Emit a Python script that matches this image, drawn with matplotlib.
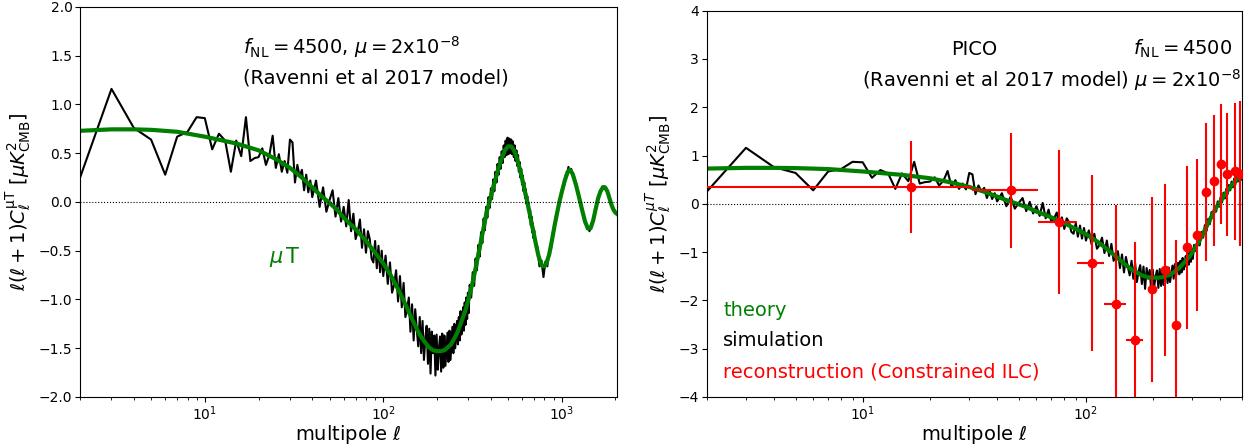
import numpy as np
import matplotlib
matplotlib.use("Agg")
import matplotlib.pyplot as plt

# theory curve (green)
ell_th = [2, 3, 4, 5, 7, 10, 15, 20, 25, 30, 35, 40, 45, 50, 55, 60, 70, 80, 90, 100,
          110, 120, 130, 140, 150, 160, 170, 180, 190, 200, 210, 220, 230, 240, 250,
          260, 270, 280, 290, 300, 320, 340, 360, 380, 400, 420, 440, 460, 480, 500,
          520, 540, 560, 580, 600, 620, 640, 660, 680, 700, 720, 740, 760, 780, 800,
          820, 850, 880, 910, 940, 970, 1000, 1040, 1080, 1110, 1150, 1200, 1250, 1300,
          1350, 1400, 1450, 1500, 1550, 1600, 1650, 1700, 1750, 1800, 1850, 1900, 1950,
          2000, 2100]
cl_th = [0.73, 0.745, 0.745, 0.74, 0.72, 0.67, 0.60, 0.53, 0.44, 0.35, 0.25, 0.15, 0.06,
         -0.01, -0.08, -0.16, -0.28, -0.40, -0.52, -0.63, -0.75, -0.88, -1.01, -1.14,
         -1.26, -1.36, -1.43, -1.49, -1.52, -1.53, -1.53, -1.52, -1.49, -1.46, -1.40,
         -1.34, -1.26, -1.18, -1.10, -1.00, -0.79, -0.55, -0.32, -0.10, 0.05, 0.20, 0.33,
         0.44, 0.53, 0.57, 0.57, 0.53, 0.45, 0.35, 0.24, 0.12, 0.01, -0.11, -0.23, -0.34,
         -0.45, -0.55, -0.62, -0.66, -0.66, -0.63, -0.54, -0.40, -0.25, -0.12, 0.0, 0.10,
         0.22, 0.31, 0.33, 0.29, 0.18, 0.05, -0.08, -0.20, -0.27, -0.27, -0.19, -0.07,
         0.04, 0.11, 0.15, 0.15, 0.11, 0.04, -0.03, -0.08, -0.11, -0.14]

# simulation (black), in pieces with a fixed step in ell
sim_a = [0.25, 1.16, 0.76, 0.64, 0.28, 0.67, 0.72, 0.87, 0.86, 0.54, 0.70, 0.63, 0.31,
         0.63, 0.47, 0.87, 0.42, 0.45, 0.46, 0.55, 0.38, 0.48, 0.68, 0.35, 0.49, 0.31,
         0.42, 0.30, 0.64, 0.61, 0.20, 0.38, 0.26, 0.33, 0.12, 0.28, 0.10, 0.22, 0.05]  # ell 2..40
sim_b = [0.22, -0.05, 0.15, -0.10, 0.02, 0.12, -0.15, 0.04, -0.20, -0.05, -0.25, 0.02,
         -0.30, -0.12, -0.38, -0.30, -0.18, -0.47, -0.28, -0.52, -0.30, -0.38, -0.58,
         -0.62, -0.40, -0.68, -0.45, -0.72, -0.50, -0.76]  # ell 42..100 step 2
sim_c = [-0.55, -0.84, -0.62, -0.93, -0.85, -0.70, -1.02, -0.76, -1.08, -0.83, -1.18,
         -1.10, -0.98, -1.33, -1.05, -1.42, -1.10, -1.30, -1.48, -1.18, -1.55, -1.22,
         -1.62, -1.40, -1.27, -1.66, -1.30, -1.76, -1.33, -1.55, -1.37, -1.78, -1.36,
         -1.72, -1.50, -1.38, -1.74, -1.35, -1.70, -1.37, -1.68, -1.50, -1.34, -1.64,
         -1.32, -1.62, -1.45, -1.28, -1.55, -1.25, -1.50, -1.35, -1.22, -1.46, -1.18,
         -1.42, -1.12, -1.36, -1.25, -1.08, -1.32, -1.03, -1.26, -0.98, -1.20, -0.93,
         -1.14]  # ell 103..301 step 3
sim_d = [-0.85, -0.98, -0.72, -0.86, -0.58, -0.70, -0.44, -0.56, -0.31, -0.42, -0.17,
         -0.29, -0.05, -0.16, 0.05, -0.06, 0.14, 0.03, 0.23, 0.11, 0.31, 0.20, 0.39, 0.28,
         0.46, 0.34, 0.52, 0.40, 0.58, 0.46, 0.63, 0.48, 0.66, 0.49, 0.65, 0.50, 0.64,
         0.49, 0.62, 0.46, 0.58, 0.42, 0.53, 0.37, 0.48, 0.31, 0.41, 0.25, 0.34, 0.18,
         0.27, 0.11, 0.20, 0.04, 0.13, -0.02, 0.06, -0.09, -0.01, -0.16, -0.08, -0.24,
         -0.15, -0.31, -0.22, -0.37, -0.29]  # ell 305..701 step 6
sim_e = [-0.44, -0.46, -0.66, -0.60, -0.77, -0.61, -0.66, -0.50, -0.49, -0.32, -0.28,
         -0.13, -0.10, 0.02, 0.05, 0.15, 0.17, 0.27, 0.27, 0.36, 0.31, 0.34, 0.27, 0.27,
         0.19, 0.16, 0.09, 0.06, -0.01, -0.04, -0.11, -0.14, -0.21, -0.22, -0.28, -0.26,
         -0.30, -0.26, -0.25, -0.20, -0.18, -0.11, -0.08, -0.02, 0.01, 0.07, 0.08, 0.12,
         0.12, 0.16, 0.14, 0.16, 0.14, 0.14, 0.11, 0.10, 0.05, 0.05, 0.00, -0.01, -0.05,
         -0.05, -0.09, -0.08, -0.11]  # ell 710..1990 step 20

ell_sim = np.concatenate([2 + np.arange(len(sim_a)), 42 + 2 * np.arange(len(sim_b)),
                          103 + 3 * np.arange(len(sim_c)), 305 + 6 * np.arange(len(sim_d)),
                          710 + 20 * np.arange(len(sim_e))])
cl_sim = np.concatenate([sim_a, sim_b, sim_c, sim_d, sim_e])

# reconstruction (red points with errors)
ell_rec = [16.5, 46, 76, 106, 136, 166, 197, 226, 253, 284, 314, 345, 375, 402, 430, 464, 492]
cl_rec = [0.35, 0.28, -0.38, -1.22, -2.07, -2.81, -1.77, -1.37, -2.50, -0.90, -0.64,
          0.25, 0.48, 0.82, 0.61, 0.67, 0.62]
err_rec = [0.96, 1.19, 1.49, 1.82, 2.04, 2.02, 1.92, 1.78, 1.76, 1.69, 1.57, 1.43, 1.35,
           1.24, 1.27, 1.41, 1.5]
lo_rec = [2, 31, 61, 91, 121, 151]
hi_rec = [31, 61, 91, 121, 151, 181]

xerr_lo = [e - l for e, l in zip(ell_rec, lo_rec)] + [0] * (len(ell_rec) - len(lo_rec))
xerr_hi = [h - e for e, h in zip(ell_rec, hi_rec)] + [0] * (len(ell_rec) - len(hi_rec))

green = '#007f00'

fig = plt.figure(figsize=(12.49, 4.45), dpi=100)
ax1 = fig.add_axes([0.0641, 0.1079, 0.4299, 0.8764])
ax2 = fig.add_axes([0.5658, 0.1079, 0.4286, 0.8681])

# left panel
ax1.plot(ell_sim, cl_sim, color='k', lw=1.5)
ax1.plot(ell_th, cl_th, color=green, lw=3)
ax1.axhline(0, color='k', ls=':', lw=0.8)
ax1.set_xscale('log')
ax1.set_xlim(2, 2040)
ax1.set_ylim(-2, 2)
ax1.set_yticks(np.arange(-2, 2.01, 0.5))
ax1.set_xlabel(r'multipole $\ell$', fontsize=14, labelpad=0)
ax1.set_ylabel(r'$\ell(\ell+1)C_\ell^{\rm \mu T}$ [$\mu K^2_{\rm CMB}$]', fontsize=14)
ax1.text(0.304, 0.897, r'$f_{\rm NL}=4500$, $\mu=2$x$10^{-8}$', transform=ax1.transAxes,
         fontsize=14, va='center')
ax1.text(0.304, 0.818, '(Ravenni et al 2017 model)', transform=ax1.transAxes,
         fontsize=14, va='center')
ax1.text(0.352, 0.36, r'$\mu\,$T', transform=ax1.transAxes, fontsize=15,
         color=green, va='center')

# right panel
ax2.plot(ell_sim, cl_sim, color='k', lw=1.5)
ax2.plot(ell_th, cl_th, color=green, lw=3)
ax2.axhline(0, color='k', ls=':', lw=0.8)
ax2.errorbar(ell_rec, cl_rec, yerr=err_rec, xerr=[xerr_lo, xerr_hi], fmt='o', color='red',
             ms=6, elinewidth=1.5, capsize=0, zorder=5)
ax2.set_xscale('log')
ax2.set_xlim(2, 500)
ax2.set_ylim(-4, 4)
ax2.set_xlabel(r'multipole $\ell$', fontsize=14, labelpad=0)
ax2.set_ylabel(r'$\ell(\ell+1)C_\ell^{\mu T}$ [$\mu K^2_{\rm CMB}$]', fontsize=14)
ax2.text(0.50, 0.90, 'PICO', transform=ax2.transAxes, fontsize=14, ha='center', va='center')
ax2.text(0.796, 0.90, r'$f_{\rm NL}=4500$', transform=ax2.transAxes, fontsize=14, va='center')
ax2.text(0.29, 0.82, r'(Ravenni et al 2017 model) $\mu=2$x$10^{-8}$', transform=ax2.transAxes,
         fontsize=14, va='center')
ax2.text(0.031, 0.225, 'theory', transform=ax2.transAxes, fontsize=14, color=green, va='center')
ax2.text(0.031, 0.146, 'simulation', transform=ax2.transAxes, fontsize=14, color='k', va='center')
ax2.text(0.031, 0.065, 'reconstruction (Constrained ILC)', transform=ax2.transAxes,
         fontsize=14, color='red', va='center')

for ax in (ax1, ax2):
    ax.tick_params(labelsize=10, pad=2)

fig.savefig('out.png', dpi=100)
